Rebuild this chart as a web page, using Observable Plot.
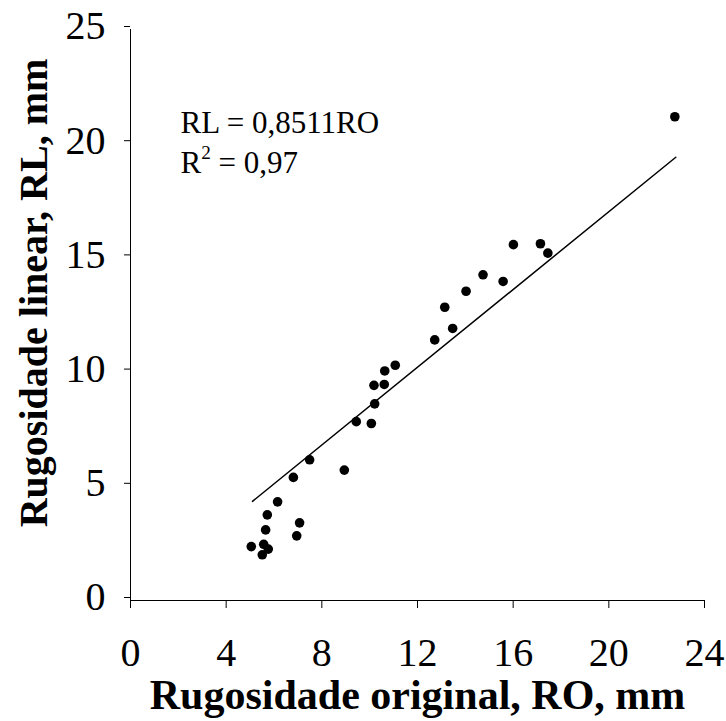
<!DOCTYPE html>
<html>
<head>
<meta charset="utf-8">
<script src="https://cdn.jsdelivr.net/npm/d3@7"></script>
<script src="https://cdn.jsdelivr.net/npm/@observablehq/plot@0.6"></script>
<style>
  html, body { margin: 0; padding: 0; background: #fff; }
  #chart svg { display: block; }
</style>
</head>
<body>
<div id="chart"></div>
<script>
// Rugosidade original (RO, mm) vs Rugosidade linear (RL, mm)
const ro = [5.05, 5.57, 5.76, 5.51, 5.65, 5.72, 6.15, 6.81, 6.95, 7.07,
            7.49, 8.94, 9.44, 10.07, 10.21, 10.18, 10.61, 10.63, 11.07, 12.72,
            13.47, 13.14, 14.03, 14.74, 15.58, 16.01, 17.14, 17.45, 22.76];
const rl = [2.36, 2.46, 2.25, 2.00, 3.09, 3.75, 4.32, 5.39, 2.83, 3.40,
            6.16, 5.71, 7.83, 7.75, 8.61, 9.42, 9.46, 10.05, 10.30, 11.41,
            11.91, 12.84, 13.54, 14.26, 13.97, 15.58, 15.62, 15.21, 21.18];

// Trend line RL = 0,8511 RO, drawn over the observed RO range
const slope = 0.8511;
const fitRange = [5.1, 22.8];

const xTicks = [0, 4, 8, 12, 16, 20, 24];
const yTicks = [0, 5, 10, 15, 20, 25];

const eqLines = ["RL = 0,8511RO", "R2 = 0,97"];
const eqPos = [{x: 2.09, y: 20.46}, {x: 2.09, y: 18.70}];

const xTitle = "Rugosidade original, RO, mm";
const yTitle = "Rugosidade linear, RL, mm";

const points = ro.map((x, i) => ({x, y: rl[i]}));
const fit = fitRange.map(x => ({x, y: slope * x}));
const eq = eqLines.map((t, i) => ({t, ...eqPos[i]}));

const font = "'Liberation Serif', 'Times New Roman', Times, serif";

const chart = Plot.plot({
  width: 726,
  height: 721,
  marginLeft: 130,
  marginRight: 22,
  marginTop: 29,
  marginBottom: 121,
  style: {fontFamily: font, fontSize: "40px", color: "#000", background: "#fff"},
  x: {domain: [0, 24]},
  y: {domain: [0, 25]},
  marks: [
    Plot.axisX({ticks: xTicks, tickSize: 8, tickPadding: 29, fontSize: 40, label: null, stroke: "#000"}),
    Plot.axisY({ticks: yTicks, tickSize: 6, tickPadding: 19, fontSize: 40, label: null, dy: -3, stroke: "#000"}),
    Plot.ruleY([0], {stroke: "#000", strokeWidth: 1}),
    Plot.ruleX([0], {stroke: "#000", strokeWidth: 1}),
    Plot.line(fit, {x: "x", y: "y", stroke: "#000", strokeWidth: 1.5}),
    Plot.dot(points, {x: "x", y: "y", r: 4.8, fill: "#000", stroke: null}),
    Plot.text(eq, {x: "x", y: "y", text: "t", textAnchor: "start", lineAnchor: "bottom", fontSize: 31, fill: "#000"}),
    Plot.text([xTitle], {frameAnchor: "bottom", textAnchor: "middle", dy: 108, lineAnchor: "bottom", fontSize: 42, fontWeight: "bold", fill: "#000"}),
    Plot.text([yTitle], {frameAnchor: "left", textAnchor: "middle", dx: -84, dy: -22, rotate: -90, lineAnchor: "bottom", fontSize: 40, fontWeight: "bold", fill: "#000"})
  ]
});

// Render the "2" of R2 as a superscript
d3.select(chart).selectAll("text").each(function () {
  if (this.textContent === "R2 = 0,97") {
    const t = d3.select(this);
    t.text(null);
    t.append("tspan").text("R");
    t.append("tspan").attr("font-size", "0.62em").attr("dy", "-0.75em").text("2");
    t.append("tspan").attr("dy", "0.465em").text(" = 0,97");
  }
});

document.getElementById("chart").appendChild(chart);
</script>
</body>
</html>
